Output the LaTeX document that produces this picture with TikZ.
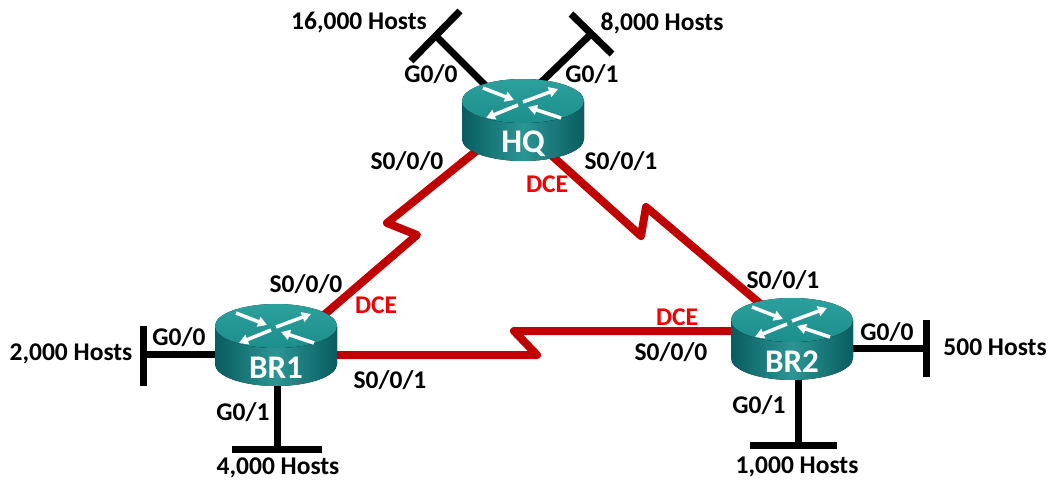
\documentclass[tikz,border=0pt]{standalone}
\usepackage{fontspec}
\setmainfont{Carlito}
\usetikzlibrary{arrows.meta}
\definecolor{serred}{RGB}{192,0,0}
\definecolor{dcered}{RGB}{240,0,0}
\definecolor{rtop}{RGB}{28,142,140}
\definecolor{rtoplight}{RGB}{44,160,156}
\definecolor{rsidedark}{RGB}{8,92,96}
\definecolor{rsidelight}{RGB}{44,150,148}
\tikzset{
  eth/.style={line width=7pt, black},
  ser/.style={line width=8pt, serred, line join=round},
  lbl/.style={font=\bfseries\fontsize{25.5}{30}\selectfont, text=black, inner sep=0pt, anchor=base},
  dcelbl/.style={lbl, text=dcered},
  rarrow/.style={white, line width=3.5pt, -{Triangle[width=10pt,length=9pt]}},
  router/.pic={
    \fill[left color=rsidedark, right color=rsidedark, middle color=rsidelight]
      (-61,-19) -- (-61,19) arc[start angle=180,end angle=0,x radius=61,y radius=22] -- (61,-19) -- cycle;
    \fill[top color=rtoplight, bottom color=rtop] (0,-19) ellipse[x radius=61,y radius=22];
    \draw[rarrow] (-40,-32) -- (-9,-20);
    \draw[rarrow] (38,-2) -- (5,-13);
    \draw[rarrow] (0,-18) -- (35,-31);
    \draw[rarrow] (-5,-15) -- (-37,-2);
    \node[font=\bfseries\fontsize{33}{36}\selectfont, text=white, anchor=base, inner sep=0pt] (-lbl) at (0,33) {#1};
  }
}
\begin{document}
\begin{tikzpicture}[x=1pt,y=-1pt]
\fill[white] (0,0) rectangle (1048,481);
\useasboundingbox (0,0) rectangle (1048,481);

% ---- coordinates: serial links
\coordinate (hqs0) at (490,140);
\coordinate (z1a) at (387,223);
\coordinate (z1b) at (417,235);
\coordinate (br1s0) at (310,327);
\coordinate (hqs1) at (540,145);
\coordinate (z2a) at (641,236);
\coordinate (z2b) at (646,207);
\coordinate (br2s1) at (770,312);
\coordinate (br1s1) at (320,355);
\coordinate (z3a) at (537,355);
\coordinate (z3b) at (514,331);
\coordinate (br2s0) at (750,331);

% ---- coordinates: ethernet links
\coordinate (hqg0) at (495,95);
\coordinate (t16) at (436,36);
\coordinate (t16a) at (411,61);
\coordinate (t16b) at (460,11);
\coordinate (hqg1) at (530,93);
\coordinate (t8) at (591,34);
\coordinate (t8a) at (571,14);
\coordinate (t8b) at (612,54);
\coordinate (br1g0) at (230,354);
\coordinate (t2k) at (143,354);
\coordinate (t2ka) at (143,326);
\coordinate (t2kb) at (143,386);
\coordinate (br1g1) at (277,370);
\coordinate (t4k) at (277,449);
\coordinate (t4ka) at (232,449);
\coordinate (t4kb) at (322,449);
\coordinate (br2g0) at (840,348);
\coordinate (t500) at (926,348);
\coordinate (t500a) at (926,320);
\coordinate (t500b) at (926,377);
\coordinate (br2g1) at (798,370);
\coordinate (t1k) at (798,445);
\coordinate (t1ka) at (750,445);
\coordinate (t1kb) at (837,445);

% ---- serial connectors
\draw[ser] (hqs0) -- (z1a) -- (z1b) -- (br1s0);
\draw[ser] (hqs1) -- (z2a) -- (z2b) -- (br2s1);
\draw[ser] (br1s1) -- (z3a) -- (z3b) -- (br2s0);

% ---- ethernet connectors and LAN bars
\draw[eth] (hqg0) -- (t16);
\draw[eth] (t16a) -- (t16b);
\draw[eth] (hqg1) -- (t8);
\draw[eth] (t8a) -- (t8b);
\draw[eth] (br1g0) -- (t2k);
\draw[eth] (t2ka) -- (t2kb);
\draw[eth] (br1g1) -- (t4k);
\draw[eth] (t4ka) -- (t4kb);
\draw[eth] (br2g0) -- (t500);
\draw[eth] (t500a) -- (t500b);
\draw[eth] (br2g1) -- (t1k);
\draw[eth] (t1ka) -- (t1kb);

% ---- routers
\pic (hq) at (523,120) {router=HQ};
\pic (br1) at (276,345) {router=BR1};
\pic (br2) at (792,339) {router=BR2};

% ---- labels
\node[lbl] (l16k) at (359,30) {16,000 Hosts};
\node[lbl] (l8k) at (662,31) {8,000 Hosts};
\node[lbl] (lhqg0) at (431,83) {G0/0};
\node[lbl] (lhqg1) at (592,83) {G0/1};
\node[lbl] (lhqs0) at (407,170) {S0/0/0};
\node[lbl] (lhqs1) at (621,170) {S0/0/1};
\node[dcelbl] (dhq) at (547,193) {DCE};

\node[lbl] (lbr1s0) at (306,292) {S0/0/0};
\node[dcelbl] (dbr1) at (376,313) {DCE};
\node[lbl] (lbr1g0) at (179,345) {G0/0};
\node[lbl] (l2k) at (71,360) {2,000 Hosts};
\node[lbl] (lbr1g1) at (243,420) {G0/1};
\node[lbl] (l4k) at (278,474) {4,000 Hosts};
\node[lbl] (lbr1s1) at (390,388) {S0/0/1};

\node[lbl] (lbr2s1) at (783,288) {S0/0/1};
\node[dcelbl] (dbr2) at (677,325) {DCE};
\node[lbl] (lbr2s0) at (671,360) {S0/0/0};
\node[lbl] (lbr2g0) at (887,340) {G0/0};
\node[lbl] (l500) at (995,355) {500 Hosts};
\node[lbl] (lbr2g1) at (759,413) {G0/1};
\node[lbl] (l1k) at (797,473) {1,000 Hosts};
\end{tikzpicture}
\end{document}
